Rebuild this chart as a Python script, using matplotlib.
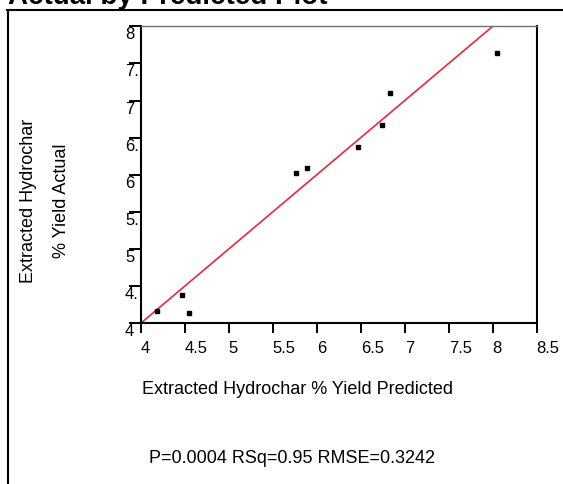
import matplotlib
matplotlib.use("Agg")
import matplotlib.pyplot as plt
from matplotlib.lines import Line2D

plt.rcParams['font.family'] = ['Liberation Sans', 'DejaVu Sans']

# Data
predicted = [4.19, 4.47, 4.55, 5.77, 5.89, 6.47, 6.74, 6.83, 8.05]
actual = [4.16, 4.38, 4.14, 6.03, 6.09, 6.38, 6.67, 7.10, 7.64]
fit_x = [4.0, 8.0]
fit_y = [4.0, 8.0]
x_ticks = [4, 4.5, 5, 5.5, 6, 6.5, 7, 7.5, 8, 8.5]
x_tick_labels = ['4', '4.5', '5', '5.5', '6', '6.5', '7', '7.5', '8', '8.5']
y_ticks = [4, 4.5, 5, 5.5, 6, 6.5, 7, 7.5, 8]
y_tick_labels = ['4', '4.', '5', '5.', '6', '6.', '7', '7.', '8']

W, H = 563, 485
fig = plt.figure(figsize=(W / 100, H / 100), dpi=100)

def fx(px):
    return px / W

def fy(py):
    return 1 - py / H

left, right, top, bottom = 140.7, 536.7, 27.3, 324.3
ax = fig.add_axes([fx(left), fy(bottom), (right - left) / W, (bottom - top) / H])

ax.plot(fit_x, fit_y, color='#e8283c', lw=1.2, zorder=2)
ax.plot(predicted, actual, linestyle='none', marker='s', markersize=3,
        color='black', zorder=3)

ax.set_xlim(4, 8.5)
ax.set_ylim(4, 8)
ax.set_xticks(x_ticks)
ax.set_xticklabels(x_tick_labels)
ax.set_yticks(y_ticks)
ax.set_yticklabels(y_tick_labels)

for s in ['left', 'bottom', 'right']:
    ax.spines[s].set_linewidth(1.5)
    ax.spines[s].set_color('black')
ax.spines['top'].set_linewidth(1.0)
ax.spines['top'].set_color('#707070')

ax.tick_params(axis='x', direction='out', length=7.2, width=1.4, pad=5,
               labelsize=12, colors='black')
ax.tick_params(axis='y', direction='out', length=8.6, width=1.4, pad=2.7,
               labelsize=12, colors='black')
for lab in ax.get_xticklabels():
    lab.set_ha('left')
for lab in ax.get_yticklabels():
    lab.set_ha('left')
    lab.set_va('top')

# Frame
fig.add_artist(Line2D([fx(7.8), fx(7.8)], [fy(10.5), fy(490)], color='black',
                      lw=1.5, transform=fig.transFigure))
fig.add_artist(Line2D([fx(7.0), fx(570)], [fy(10.5), fy(10.5)], color='black',
                      lw=1.5, transform=fig.transFigure))

# Title (cut at top, as in the reference)
fig.text(fx(8), fy(4), 'Actual by Predicted Plot', fontsize=20,
         fontweight='bold', ha='left', va='baseline')

# Axis labels
fig.text(fx(33), fy(201), 'Extracted Hydrochar', fontsize=13, rotation=90,
         ha='center', va='baseline', rotation_mode='anchor')
fig.text(fx(66), fy(201), '% Yield Actual', fontsize=13, rotation=90,
         ha='center', va='baseline', rotation_mode='anchor')
fig.text(fx(141.7), fy(394), 'Extracted Hydrochar % Yield Predicted',
         fontsize=13, ha='left', va='baseline')
fig.text(fx(149.3), fy(463.3), 'P=0.0004 RSq=0.95 RMSE=0.3242',
         fontsize=13, ha='left', va='baseline')

fig.savefig('out.png', dpi=100)
